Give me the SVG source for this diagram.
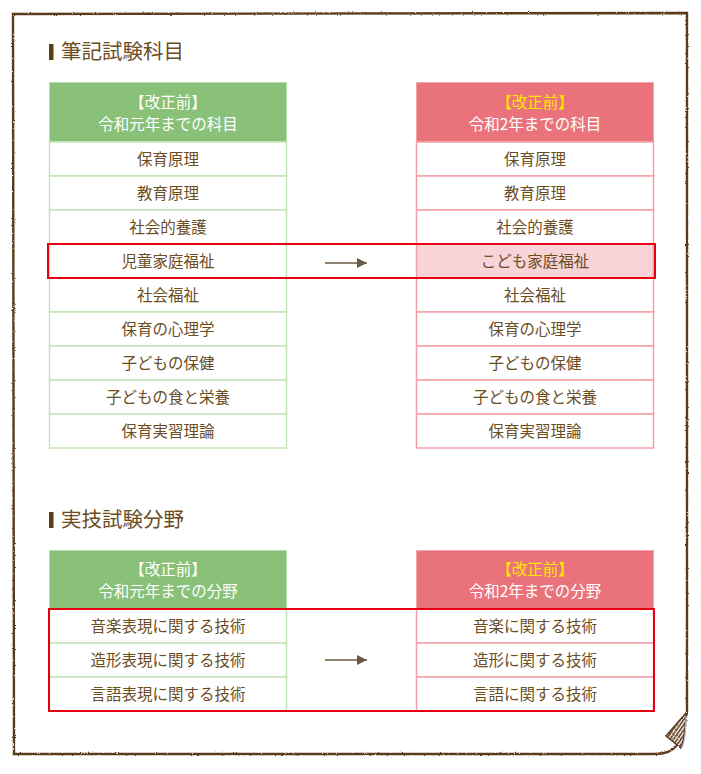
<svg xmlns="http://www.w3.org/2000/svg" width="701" height="774" viewBox="0 0 701 774">
<defs>
<filter id="rough" x="-5%" y="-5%" width="110%" height="110%">
<feTurbulence type="fractalNoise" baseFrequency="0.6" numOctaves="2" seed="3" result="n"/>
<feDisplacementMap in="SourceGraphic" in2="n" scale="2.2" xChannelSelector="R" yChannelSelector="G"/>
</filter>
<pattern id="hatch" width="3" height="3" patternUnits="userSpaceOnUse" patternTransform="rotate(35)">
<rect width="3" height="3" fill="#ffffff"/>
<rect width="1.6" height="3" fill="#5a3a1c"/>
</pattern>
<marker id="arr" viewBox="0 0 10 10" refX="10" refY="5" markerWidth="10" markerHeight="10" markerUnits="userSpaceOnUse" orient="auto">
<path d="M0,0 L10,5 L0,10 Z" fill="#6b5a45"/>
</marker>
</defs>
<style>
text{font-family:"Noto Sans CJK JP","Noto Sans",sans-serif;}
.h{font-size:20.5px;fill:#6b4d1f;}
.bar{fill:#5b3f16;}
.gh{fill:#89c179;stroke:#b9dcae;stroke-width:1;}
.ph{fill:#ea737b;stroke:#f2a6ac;stroke-width:1;}
.gc{fill:#ffffff;stroke:#c5e3bb;stroke-width:1.5;}
.pc{fill:#ffffff;stroke:#f2a0a7;stroke-width:1.5;}
.pcH{fill:#f8d3d8;stroke:#f2a0a7;stroke-width:1.5;}
.ht{font-size:15.5px;fill:#ffffff;text-anchor:middle;}
.hy{fill:#ffe600;}
.ct{font-size:15.5px;fill:#6b4d1f;text-anchor:middle;}
.red{fill:none;stroke:#e60012;stroke-width:2;}
.con{stroke:#6b5a45;stroke-width:1.5;fill:none;}
</style>
<g id="frame" filter="url(#rough)">
<path d="M13,14 L687,13 L687,712 Q683,735 676,746 Q670,754 655,754 L14,754 Z" fill="none" stroke="#5a3a1c" stroke-width="2.4"/>
<path d="M666,736 L686,713 Q685,740 681,748 Z" fill="url(#hatch)" stroke="#5a3a1c" stroke-width="1.6"/>
<path d="M686,716 Q686,742 681,749" fill="none" stroke="#b8b8e8" stroke-width="1.2"/>
</g>
<g id="heading1">
<rect class="bar" x="49" y="44" width="4.5" height="16"/>
<text class="h" x="61" y="59">筆記試験科目</text>
</g>
<g id="table1-left">
<rect class="gh" x="49.5" y="82.5" width="237" height="59"/>
<text class="ht" x="168" y="107.5">【改正前】</text>
<text class="ht" x="168" y="130">令和元年までの科目</text>
<rect class="gc" x="49.5" y="142" width="237" height="34"/><text class="ct" x="168" y="164.5">保育原理</text>
<rect class="gc" x="49.5" y="176" width="237" height="34"/><text class="ct" x="168" y="198.5">教育原理</text>
<rect class="gc" x="49.5" y="210" width="237" height="34"/><text class="ct" x="168" y="232.5">社会的養護</text>
<rect class="gc" x="49.5" y="244" width="237" height="34"/><text class="ct" x="168" y="266.5">児童家庭福祉</text>
<rect class="gc" x="49.5" y="278" width="237" height="34"/><text class="ct" x="168" y="300.5">社会福祉</text>
<rect class="gc" x="49.5" y="312" width="237" height="34"/><text class="ct" x="168" y="334.5">保育の心理学</text>
<rect class="gc" x="49.5" y="346" width="237" height="34"/><text class="ct" x="168" y="368.5">子どもの保健</text>
<rect class="gc" x="49.5" y="380" width="237" height="34"/><text class="ct" x="168" y="402.5">子どもの食と栄養</text>
<rect class="gc" x="49.5" y="414" width="237" height="34"/><text class="ct" x="168" y="436.5">保育実習理論</text>
</g>
<g id="table1-right">
<rect class="ph" x="416.5" y="82.5" width="237" height="59"/>
<text class="ht hy" x="535" y="107.5">【改正前】</text>
<text class="ht" x="535" y="130">令和2年までの科目</text>
<rect class="pc" x="416.5" y="142" width="237" height="34"/><text class="ct" x="535" y="164.5">保育原理</text>
<rect class="pc" x="416.5" y="176" width="237" height="34"/><text class="ct" x="535" y="198.5">教育原理</text>
<rect class="pc" x="416.5" y="210" width="237" height="34"/><text class="ct" x="535" y="232.5">社会的養護</text>
<rect class="pcH" x="416.5" y="244" width="237" height="34"/><text class="ct" x="535" y="266.5">こども家庭福祉</text>
<rect class="pc" x="416.5" y="278" width="237" height="34"/><text class="ct" x="535" y="300.5">社会福祉</text>
<rect class="pc" x="416.5" y="312" width="237" height="34"/><text class="ct" x="535" y="334.5">保育の心理学</text>
<rect class="pc" x="416.5" y="346" width="237" height="34"/><text class="ct" x="535" y="368.5">子どもの保健</text>
<rect class="pc" x="416.5" y="380" width="237" height="34"/><text class="ct" x="535" y="402.5">子どもの食と栄養</text>
<rect class="pc" x="416.5" y="414" width="237" height="34"/><text class="ct" x="535" y="436.5">保育実習理論</text>
</g>
<g id="highlight1"><rect class="red" x="48" y="244" width="607" height="34"/></g>
<g id="heading2">
<rect class="bar" x="49" y="512" width="4.5" height="16"/>
<text class="h" x="61" y="527">実技試験分野</text>
</g>
<g id="table2-left">
<rect class="gh" x="49.5" y="550.5" width="237" height="58.5"/>
<text class="ht" x="168" y="575">【改正前】</text>
<text class="ht" x="168" y="597">令和元年までの分野</text>
<rect class="gc" x="49.5" y="609" width="237" height="34"/><text class="ct" x="168" y="631.5">音楽表現に関する技術</text>
<rect class="gc" x="49.5" y="643" width="237" height="34"/><text class="ct" x="168" y="665.5">造形表現に関する技術</text>
<rect class="gc" x="49.5" y="677" width="237" height="34"/><text class="ct" x="168" y="699.5">言語表現に関する技術</text>
</g>
<g id="table2-right">
<rect class="ph" x="416.5" y="550.5" width="237" height="58.5"/>
<text class="ht hy" x="535" y="575">【改正前】</text>
<text class="ht" x="535" y="597">令和2年までの分野</text>
<rect class="pc" x="416.5" y="609" width="237" height="34"/><text class="ct" x="535" y="631.5">音楽に関する技術</text>
<rect class="pc" x="416.5" y="643" width="237" height="34"/><text class="ct" x="535" y="665.5">造形に関する技術</text>
<rect class="pc" x="416.5" y="677" width="237" height="34"/><text class="ct" x="535" y="699.5">言語に関する技術</text>
</g>
<g id="highlight2"><rect class="red" x="49" y="609" width="605" height="102"/></g>
<g id="connectors">
<line class="con" x1="325" y1="263" x2="367" y2="263" marker-end="url(#arr)"/>
<line class="con" x1="325" y1="660" x2="367" y2="660" marker-end="url(#arr)"/>
</g>
</svg>
